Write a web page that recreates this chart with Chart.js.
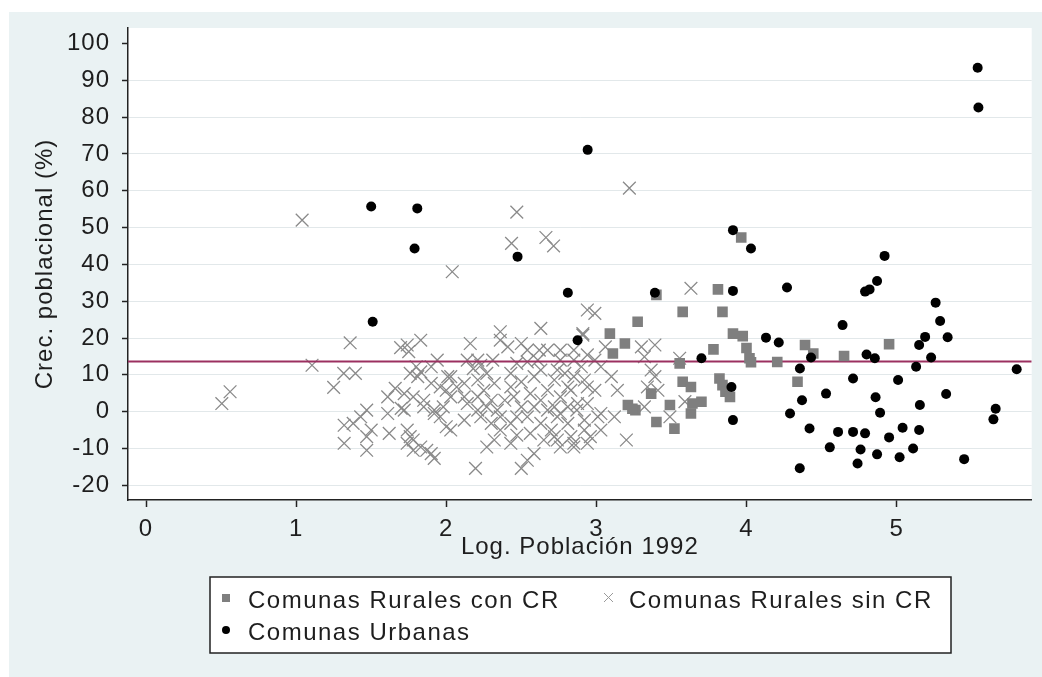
<!DOCTYPE html>
<html>
<head>
<meta charset="utf-8">
<script src="https://cdn.jsdelivr.net/npm/chart.js"></script>
<style>
  html, body { margin: 0; padding: 0; background: #fff; }
  canvas { display: block; }
</style>
</head>
<body>
<canvas id="grafico" width="1042" height="677"></canvas>
<script>
// Datos: [log población 1992, crecimiento %]
const ruralesConCR = [
  [3.40, 31.7], [3.81, 33.2], [3.575, 27.1], [3.84, 27.1], [3.275, 24.4], [3.09, 21.2],
  [3.19, 18.5], [3.11, 15.8], [3.91, 21.2], [3.975, 20.5], [4.0, 17.3], [3.78, 16.9],
  [3.555, 13.1], [3.575, 8.1], [3.63, 6.7], [3.82, 9.0], [3.84, 7.2], [3.86, 5.4],
  [3.89, 4.0], [3.365, 4.9], [3.21, 1.8], [3.26, 0.4], [3.24, 0.8], [3.49, 1.8],
  [3.64, 2.2], [3.70, 2.7], [3.63, -0.5], [3.40, -2.8], [3.52, -4.6], [4.02, 14.5],
  [4.03, 13.4], [4.205, 13.5], [4.39, 18.1], [4.445, 15.8], [4.34, 8.1], [4.65, 15.1],
  [4.95, 18.3], [3.965, 47.3]
];

const ruralesSinCR = [
  [0.505, 2.2], [0.56, 5.4], [1.04, 52.0], [1.106, 12.6], [1.36, 18.7], [1.317, 10.4],
  [1.395, 10.4], [1.25, 6.6], [1.696, 17.4], [1.83, 19.4], [1.75, 16.3], [1.80, 12.2],
  [1.76, 10.4], [1.83, 10.8], [1.90, 12.2], [1.96, 6.7], [2.01, 9.5], [1.66, 6.3],
  [1.61, 4.0], [1.78, 4.0], [1.70, 0.9], [1.61, -0.5], [1.47, 0.4], [1.43, -1.4],
  [1.38, -3.2], [1.32, -3.7], [1.50, -5.0], [1.47, -6.8], [1.47, -10.5], [1.32, -8.6],
  [1.62, -5.9], [1.74, -5.0], [1.78, -7.7], [1.83, -9.6], [1.87, -10.5], [1.92, -12.7],
  [1.92, 0.4], [1.98, 1.3], [2.0, 5.8], [2.0, -4.1],
  [2.47, 54.2], [3.22, 60.7], [2.435, 45.7], [2.664, 47.3], [2.715, 45.0], [2.04, 38.0],
  [2.94, 27.6], [2.99, 26.7], [2.36, 21.7], [2.63, 22.6],
  [1.74, 18.1], [2.16, 18.5], [2.36, 19.4], [2.41, 17.6], [2.5, 18.5], [2.54, 16.7],
  [2.62, 16.7], [2.675, 16.7], [2.76, 16.7], [2.85, 16.7], [2.91, 20.8], [2.94, 15.4],
  [1.81, 9.5], [1.72, 4.9], [1.72, 0.4], [1.85, 1.3], [1.92, -0.5], [2.03, 4.0],
  [2.03, 9.5], [2.07, 6.7], [2.12, 4.0], [2.14, 2.2], [2.21, 8.6], [2.18, 11.7],
  [2.23, 12.6], [2.27, 10.4], [2.25, 5.8], [2.30, 3.1], [2.34, 0.4], [2.36, -1.4],
  [2.03, -5.0], [1.76, -6.8], [1.90, -11.4], [2.195, -15.4], [2.50, -15.4], [2.54, -13.2],
  [2.585, -11.4], [2.47, -6.4], [2.43, -8.6], [2.32, -7.7], [2.27, -9.6], [2.36, -5.0],
  [2.43, 6.7], [2.45, 4.0], [2.50, 1.3], [2.54, -1.4], [2.43, 10.4], [2.47, 13.1],
  [2.50, 8.1], [2.585, 9.5], [2.63, 11.3], [2.675, 5.8], [2.63, 3.1], [2.675, 0.4],
  [2.63, -3.2], [2.70, -5.0], [2.65, -7.7], [2.81, -3.2], [2.83, -6.8], [2.92, -5.0],
  [2.94, -8.6], [2.76, 4.0], [2.81, 6.7], [2.85, 9.5], [2.90, 12.2], [2.74, 11.3],
  [2.94, 2.2], [2.99, 5.8], [2.72, 8.6], [2.87, 0.4], [3.01, -1.4],
  [1.94, 14.0], [2.14, 14.0], [2.21, 14.0], [2.31, 14.0], [2.54, 13.5], [2.61, 14.0],
  [2.76, 14.0], [2.85, 14.0], [2.99, 14.0], [2.12, 7.7], [2.32, 7.7], [2.21, 4.0],
  [2.27, 1.3], [2.39, 3.1], [2.56, 4.9], [2.585, 1.3], [2.72, 1.3], [2.81, 1.3],
  [2.94, 6.7], [2.74, -1.4], [2.47, -1.4], [2.23, -1.4], [2.21, 0.4], [2.30, -3.2],
  [1.96, -1.4], [1.85, 3.1], [1.90, 7.7], [2.12, -2.3], [2.43, -3.2], [2.56, -5.9],
  [2.72, -6.8], [2.85, -9.6], [2.76, -9.6], [1.78, -10.5], [1.74, -8.6],
  [3.63, 33.5], [2.91, 21.2], [3.06, 17.6], [3.30, 17.6], [3.39, 18.1], [3.32, 14.9],
  [3.555, 14.5], [3.365, 11.3], [3.39, 9.5], [3.34, 6.7], [3.41, 5.8], [3.32, 1.3],
  [3.14, 5.8], [3.10, 9.5], [3.03, 12.2], [2.92, 8.6], [2.83, 5.8], [2.79, 10.4],
  [2.875, 2.2], [2.76, -0.5], [2.92, -2.3], [3.03, -0.5], [3.12, -1.4], [3.03, -5.0],
  [2.96, -6.8], [2.74, -7.7], [2.85, -8.6], [3.20, -7.7], [3.59, 2.7], [3.49, -1.4]
];

const urbanas = [
  [1.50, 55.7], [1.807, 55.2], [1.789, 44.3], [2.475, 42.1], [2.942, 71.1], [1.51, 24.4],
  [2.81, 32.3], [2.875, 19.4], [3.39, 32.3], [3.91, 32.8], [3.70, 14.5], [3.90, 6.7],
  [3.91, -2.3], [3.91, 49.3], [4.03, 44.3], [4.92, 42.3], [5.54, 93.4], [5.545, 82.6],
  [4.27, 33.7], [4.13, 20.1], [4.215, 18.8], [4.43, 14.7], [4.356, 11.7], [4.64, 23.5],
  [4.79, 32.6], [4.82, 33.2], [4.87, 35.5], [4.80, 15.5], [4.855, 14.5], [4.71, 9.0],
  [5.01, 8.6], [4.53, 4.9], [4.37, 3.1], [4.29, -0.5], [4.42, -4.6], [4.61, -5.5],
  [4.71, -5.5], [4.79, -5.9], [4.555, -9.7], [4.76, -10.3], [4.95, -7.0], [4.87, -11.6],
  [4.74, -14.1], [4.355, -15.4], [4.86, 3.9], [4.89, -0.3], [5.02, -12.4], [5.26, 29.6],
  [5.29, 24.6], [5.34, 20.2], [5.19, 20.3], [5.15, 18.1], [5.23, 14.7], [5.13, 12.2],
  [5.155, 1.8], [5.33, 4.8], [5.04, -4.4], [5.15, -5.0], [5.11, -10.0], [5.45, -12.9],
  [5.66, 0.8], [5.645, -2.1], [5.80, 11.5]
];

const promedio = 13.6;            // línea horizontal
const ticksX = [0, 1, 2, 3, 4, 5];
const ticksY = [-20, -10, 0, 10, 20, 30, 40, 50, 60, 70, 80, 90, 100];
const limitesX = [-0.12, 5.9];
const limitesY = [-24, 104.2];

const etiquetas = ['Comunas Rurales con CR', 'Comunas Rurales sin CR', 'Comunas Urbanas'];

const aPuntos = arr => arr.map(p => ({ x: p[0], y: p[1] }));

const FUENTE = '"Liberation Sans", Arial, sans-serif';
const TEXTO = '#1e1e1e';
Chart.defaults.font.family = FUENTE;
Chart.defaults.font.size = 24;
Chart.defaults.color = TEXTO;

// Fondo estilo Stata: región gris azulada y área de gráfico blanca
const fondo = {
  id: 'fondo',
  beforeDraw(chart) {
    const ctx = chart.ctx;
    const a = chart.chartArea;
    ctx.save();
    ctx.fillStyle = '#ffffff';
    ctx.fillRect(0, 0, chart.width, chart.height);
    ctx.fillStyle = '#eaf2f3';
    ctx.fillRect(9, 12, chart.width - 9, chart.height - 12);
    ctx.fillStyle = '#ffffff';
    ctx.fillRect(a.left, a.top, a.right - a.left, a.bottom - a.top);
    ctx.restore();
    ctx.letterSpacing = '1px';
  }
};

// Leyenda con recuadro, dos columnas
const leyenda = {
  id: 'leyenda',
  afterDraw(chart) {
    const ctx = chart.ctx;
    ctx.save();
    ctx.fillStyle = '#ffffff';
    ctx.fillRect(210, 577, 741, 76);
    ctx.strokeStyle = '#222';
    ctx.lineWidth = 1.5;
    ctx.strokeRect(210, 577, 741, 76);

    ctx.font = '24px ' + FUENTE;
    ctx.letterSpacing = '1.5px';
    ctx.textBaseline = 'middle';
    ctx.textAlign = 'left';
    ctx.fillStyle = TEXTO;
    ctx.fillText(etiquetas[0], 248, 601);
    ctx.fillText(etiquetas[1], 629, 601);
    ctx.fillText(etiquetas[2], 248, 633);

    // marcadores
    ctx.fillStyle = '#7f7f7f';
    ctx.fillRect(222, 594, 8, 8);
    ctx.strokeStyle = '#9a9a9a';
    ctx.lineWidth = 1;
    ctx.beginPath();
    ctx.moveTo(604, 593); ctx.lineTo(613, 602);
    ctx.moveTo(613, 593); ctx.lineTo(604, 602);
    ctx.stroke();
    ctx.fillStyle = '#000';
    ctx.beginPath();
    ctx.arc(226, 630, 4, 0, Math.PI * 2);
    ctx.fill();
    ctx.restore();
  }
};

const config = {
  type: 'scatter',
  data: {
    datasets: [
      {
        label: etiquetas[1],
        data: aPuntos(ruralesSinCR),
        pointStyle: 'crossRot',
        pointRadius: 9,
        borderColor: '#8a8a8a',
        borderWidth: 1.3,
        order: 4
      },
      {
        type: 'line',
        label: 'promedio',
        data: [{ x: limitesX[0], y: promedio }, { x: limitesX[1], y: promedio }],
        borderColor: '#9b3060',
        borderWidth: 2,
        pointRadius: 0,
        fill: false,
        order: 3
      },
      {
        label: etiquetas[0],
        data: aPuntos(ruralesConCR),
        pointStyle: 'rect',
        pointRadius: 7.5,
        backgroundColor: '#7f7f7f',
        borderWidth: 0,
        order: 2
      },
      {
        label: etiquetas[2],
        data: aPuntos(urbanas),
        pointStyle: 'circle',
        pointRadius: 5,
        backgroundColor: '#000',
        borderWidth: 0,
        order: 1
      }
    ]
  },
  options: {
    responsive: false,
    animation: false,
    layout: { padding: { left: 0, top: 28, right: 9, bottom: 107 } },
    plugins: {
      legend: { display: false },
      tooltip: { enabled: false }
    },
    scales: {
      x: {
        type: 'linear',
        min: limitesX[0],
        max: limitesX[1],
        afterBuildTicks: s => { s.ticks = ticksX.map(v => ({ value: v })); },
        afterFit: s => { s.height = 70; },
        grid: { drawOnChartArea: false, drawTicks: true, tickLength: 7, tickColor: '#222', tickWidth: 1.5 },
        border: { display: true, color: '#222', width: 1.5 },
        ticks: { padding: 8, color: TEXTO, maxRotation: 0, autoSkip: false },
        title: { display: true, text: 'Log. Población 1992', color: TEXTO, padding: { top: 0, bottom: 8 } }
      },
      y: {
        type: 'linear',
        min: limitesY[0],
        max: limitesY[1],
        afterBuildTicks: s => { s.ticks = ticksY.map(v => ({ value: v })); },
        afterFit: s => { s.width = 128; },
        grid: {
          color: c => (c.tick && c.tick.value === 100) ? 'rgba(0,0,0,0)' : '#e2e8ea',
          lineWidth: 1,
          drawTicks: true,
          tickLength: 6,
          tickColor: '#222',
          tickWidth: 1.5
        },
        border: { display: true, color: '#222', width: 1.5 },
        ticks: { padding: 12, color: TEXTO, autoSkip: false },
        title: { display: true, text: 'Crec. poblacional (%)', color: TEXTO, padding: { top: 31, bottom: 0 } }
      }
    }
  },
  plugins: [fondo, leyenda]
};

const grafico = new Chart(document.getElementById('grafico'), config);
</script>
</body>
</html>
